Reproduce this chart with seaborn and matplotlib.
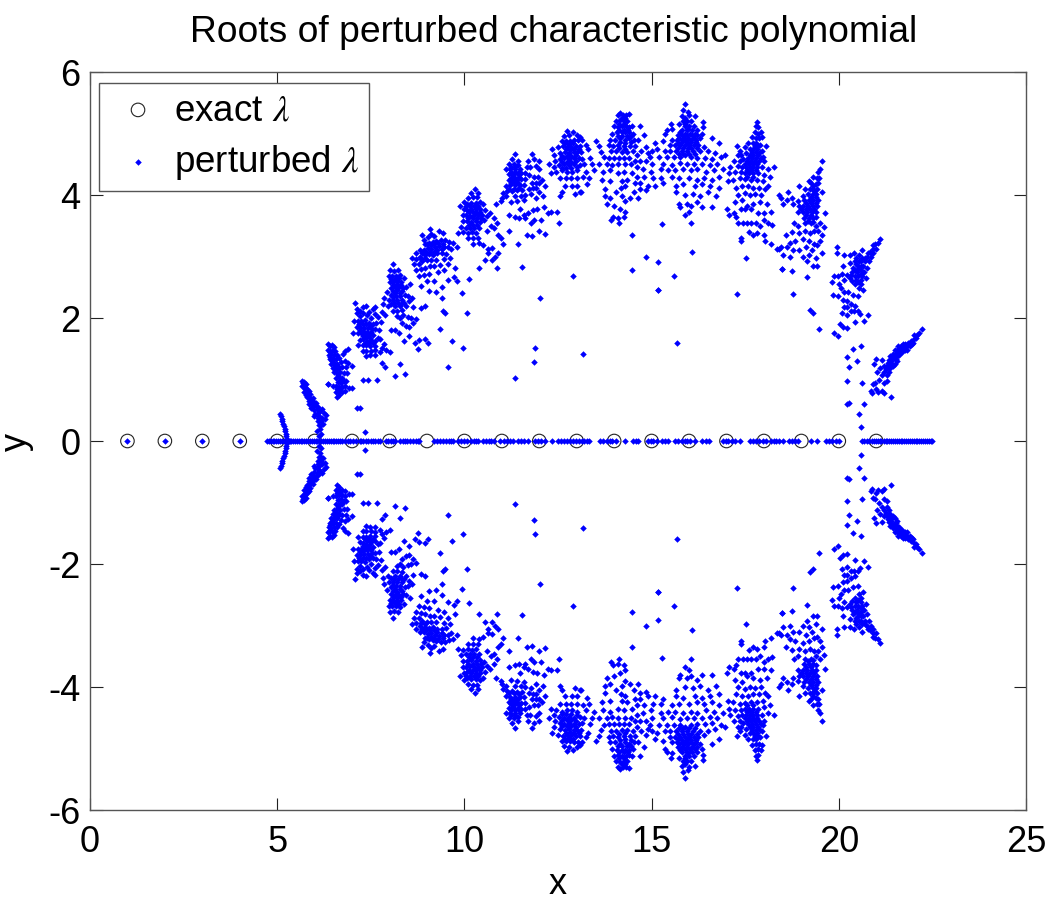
import numpy as np
import pandas as pd
import matplotlib
matplotlib.use("Agg")
import matplotlib.pyplot as plt
import seaborn as sns

TITLE = "Roots of perturbed characteristic polynomial"
exact_roots = list(range(1, 22))
x_ticks = [0, 5, 10, 15, 20, 25]
y_ticks = [-6, -4, -2, 0, 2, 4, 6]

real_roots = [1, 2, 3, 4,
 4.72,4.77,4.83,4.88,4.92,4.97,5.03,5.08,5.12,5.17,5.22,5.27,5.33,5.38,5.42,5.47,5.53,5.58,5.63,5.67,5.72,5.78,5.83,5.88,5.92,5.97,6.03,6.07,6.12,6.18,6.23,6.28,6.33,6.38,6.43,6.48,6.53,6.58,6.63,6.68,6.74,6.8,
 6.88,6.95,7.02,7.1,7.2,7.25,7.3,7.37,7.42,7.5,7.55,7.62,7.68,7.75,7.9,7.97,8.03,8.1,8.15,8.28,8.35,8.42,8.48,8.55,8.62,8.7,8.75,8.8,9.2,9.27,9.35,9.42,9.5,9.58,9.65,9.7,
 9.84,9.92,10.0,10.08,10.17,10.25,10.32,10.37,10.5,10.57,10.65,10.72,10.8,10.95,11.05,11.15,11.22,11.3,11.42,11.5,11.6,11.7,11.89,11.97,12.05,12.15,12.33,12.5,12.58,12.66,12.74,12.82,12.9,12.98,13.06,
 13.13,13.2,13.27,13.34,13.62,13.7,13.8,13.88,13.95,14.05,14.29,14.5,14.58,14.65,14.9,14.98,15.05,15.15,15.28,15.36,15.45,15.63,15.7,15.8,15.88,15.95,16.03,16.15,16.35,16.44,16.52,16.9,16.98,17.05,17.15,17.22,17.35,
 17.63,17.7,17.8,17.88,17.97,18.05,18.18,18.26,18.33,18.4,18.5,18.67,18.75,18.83,18.92,19.25,19.43,19.65,19.75,19.83,19.92,20.0,
 20.62,20.68,20.75,20.8,20.88,20.95,21.0,21.05,21.1,21.14,21.2,21.25,21.3,21.35,21.4,21.45,21.5,21.55,21.6,21.65,21.7,21.75,21.8,21.85,21.9,21.95,22.0,22.05,22.1,22.15,22.2,22.25,22.3,22.35,22.4,22.45,22.5]

# complex roots with positive imaginary part, read cluster by cluster as (x, y)
arc_5 = [(5.08,.44),(5.1,.4),(5.12,.36),(5.14,.32),(5.16,.28),(5.18,.24),(5.2,.2),(5.22,.16),(5.23,.12),(5.24,.08),(5.25,.04)]
cluster_6 = [(5.65,.98),(5.68,.94),(5.72,.96),(5.7,.9),(5.75,.88),(5.73,.84),(5.78,.92),(5.8,.84),(5.77,.79),(5.82,.78),(5.85,.82),(5.8,.72),(5.85,.72),(5.88,.76),(5.9,.68),(5.86,.65),(5.92,.62),(5.95,.7),(5.98,.64),(5.93,.56),(6.0,.58),(6.03,.62),(5.97,.5),(6.05,.52),(6.1,.56),(6.02,.44),(6.08,.46),(6.15,.48),(6.2,.52),(6.25,.46),(6.3,.42),(6.12,.4),(6.2,.38),(6.28,.36),(6.1,.33),(6.18,.32),(6.22,.28),(6.12,.26),(6.05,.17),(6.15,.2),(6.18,.12),(6.12,.08)]
cluster_7 = [(6.37,1.57),(6.42,1.55),(6.47,1.56),(6.52,1.53),(6.36,1.48),(6.42,1.47),(6.48,1.48),(6.55,1.46),(6.38,1.4),(6.45,1.41),(6.52,1.4),(6.6,1.4),(6.42,1.33),(6.5,1.34),(6.57,1.33),(6.66,1.35),(6.75,1.42),(6.82,1.47),(6.9,1.5),(6.45,1.26),(6.52,1.27),(6.6,1.26),(6.7,1.28),(6.8,1.3),(6.9,1.27),(7.0,1.22),(6.48,1.19),(6.56,1.2),(6.64,1.18),(6.74,1.2),(6.85,1.2),(6.52,1.12),(6.6,1.1),(6.68,1.12),(6.78,1.1),(6.58,1.03),(6.66,1.04),(6.74,1.02),(6.62,.96),(6.7,.95),(6.78,.97),(6.85,.98),(6.58,.89),(6.66,.88),(6.74,.88),(6.82,.9),(6.92,.86),(6.56,.8),(6.64,.8),(6.72,.79),(6.8,.82),(6.59,.71),(6.66,.74),(6.37,.92),(6.48,.9),(6.86,1.1),(7.0,.86)]
cluster_8 = [(7.08,2.25),(7.12,2.15),(7.2,2.12),(7.28,2.18),(7.36,2.19),(7.45,2.1),(7.55,2.14),(7.62,2.18),(7.12,2.08),(7.2,2.03),(7.3,2.08),(7.4,2.05),(7.5,2.0),(7.6,2.06),(7.7,2.02),(7.8,2.1),(7.88,2.05),(7.05,1.95),(7.15,1.95),(7.25,1.95),(7.35,1.96),(7.45,1.92),(7.55,1.9),(7.65,1.92),(7.78,1.94),(7.12,1.85),(7.22,1.86),(7.32,1.84),(7.42,1.83),(7.52,1.82),(7.6,1.82),(7.72,1.8),(7.02,1.75),(7.15,1.75),(7.25,1.75),(7.35,1.74),(7.45,1.72),(7.56,1.73),(7.68,1.68),(7.2,1.65),(7.3,1.66),(7.4,1.63),(7.5,1.64),(7.6,1.62),(7.75,1.66),(7.15,1.56),(7.28,1.56),(7.38,1.56),(7.48,1.55),(7.6,1.54),(7.85,1.58),(7.28,1.47),(7.38,1.46),(7.5,1.47),(7.62,1.48),(7.75,1.44),(7.9,1.48),(7.38,1.39),(7.48,1.4),(7.62,1.4),(7.8,1.52),(7.79,1.27),(7.88,1.2),(8.0,1.44)]
cluster_9 = [(8.1,2.87),(8.02,2.78),(8.12,2.76),(8.22,2.78),(7.98,2.68),(8.07,2.68),(8.17,2.68),(8.28,2.7),(8.38,2.65),(8.0,2.58),(8.1,2.58),(8.2,2.6),(8.3,2.58),(8.05,2.48),(8.15,2.5),(8.25,2.5),(8.35,2.48),(8.45,2.5),(8.55,2.56),(7.85,2.32),(7.92,2.42),(8.05,2.38),(8.15,2.4),(8.28,2.4),(8.42,2.38),(7.98,2.3),(8.1,2.3),(8.2,2.3),(8.32,2.3),(8.5,2.36),(7.82,2.22),(7.95,2.2),(8.05,2.22),(8.15,2.2),(8.28,2.2),(8.4,2.25),(8.52,2.28),(8.6,2.32),(8.1,2.12),(8.2,2.12),(8.34,2.13),(8.45,2.2),(8.62,2.18),(8.2,2.03),(8.28,2.0),(8.36,2.05),(8.5,2.02),(8.58,2.0),(8.32,1.92),(8.45,1.87),(8.52,1.86),(8.62,1.92),(8.72,1.98),(8.95,2.2),(8.85,2.17),(8.52,1.7),(8.95,1.66),(9.02,1.6),(8.25,1.75),(8.05,1.8),(8.15,1.8),(8.4,1.62),(8.68,1.6),(8.8,1.65)]
cluster_10 = [(9.08,3.44),(8.88,3.35),(8.92,3.27),(9.02,3.32),(9.12,3.36),(9.2,3.33),(9.32,3.42),(9.42,3.38),(8.95,3.2),(9.05,3.22),(9.15,3.24),(9.25,3.25),(9.38,3.27),(9.48,3.27),(9.6,3.24),(9.7,3.22),(9.8,3.15),(8.72,3.06),(8.82,3.1),(8.92,3.1),(9.02,3.14),(9.12,3.12),(9.22,3.15),(9.32,3.17),(9.45,3.16),(9.55,3.15),(9.65,3.12),(8.6,2.98),(8.72,2.96),(8.82,3.0),(8.95,3.02),(9.05,3.04),(9.17,3.03),(9.28,3.05),(9.4,3.06),(9.52,3.04),(8.66,2.88),(8.78,2.88),(8.88,2.92),(9.0,2.95),(9.12,2.94),(9.25,2.95),(9.45,2.96),(9.62,2.98),(8.72,2.78),(8.83,2.8),(8.95,2.82),(9.08,2.85),(9.2,2.84),(9.36,2.86),(9.55,2.88),(8.8,2.68),(8.92,2.7),(9.05,2.72),(9.3,2.75),(9.45,2.78),(9.75,2.82),(9.0,2.6),(9.18,2.6),(9.25,2.42),(9.4,2.5),(9.55,2.62),(9.72,2.66),(9.8,2.6),(9.93,2.4),(9.39,2.32),(8.85,2.52),(9.05,2.44)]
cluster_11 = [(10.28,4.09),(10.18,4.04),(10.36,4.04),(10.1,3.95),(10.22,3.96),(10.34,3.97),(9.98,3.88),(10.08,3.86),(10.18,3.87),(10.3,3.87),(10.42,3.88),(10.5,3.85),(9.88,3.82),(9.98,3.78),(10.08,3.76),(10.18,3.77),(10.3,3.77),(10.42,3.78),(10.55,3.76),(10.69,3.71),(9.95,3.68),(10.05,3.67),(10.15,3.66),(10.26,3.68),(10.37,3.67),(10.48,3.68),(10.6,3.66),(9.97,3.58),(10.08,3.57),(10.18,3.56),(10.3,3.58),(10.42,3.56),(10.52,3.6),(10.78,3.62),(9.92,3.48),(10.05,3.47),(10.15,3.47),(10.26,3.47),(10.38,3.47),(10.86,3.55),(10.72,3.5),(9.82,3.38),(9.95,3.4),(10.1,3.38),(10.2,3.4),(10.32,3.38),(10.6,3.42),(10.8,3.46),(10.1,3.3),(10.22,3.3),(10.36,3.3),(10.24,3.2),(10.4,3.22),(10.5,3.18),(10.64,3.12),(10.74,3.14),(10.38,2.82),(10.86,2.82),(10.91,3.06),(10.64,3.06),(10.55,2.95),(10.91,3.35),(11.18,3.42),(10.98,3.3),(11.02,3.2),(10.82,3.0),(10.75,2.95)]
cluster_12 = [(11.35,4.66),(11.26,4.58),(11.42,4.55),(11.2,4.5),(11.32,4.5),(11.44,4.48),(11.8,4.66),(11.85,4.58),(11.7,4.55),(11.98,4.55),(11.1,4.42),(11.22,4.42),(11.36,4.42),(11.48,4.42),(11.66,4.45),(11.76,4.45),(11.92,4.47),(11.2,4.34),(11.3,4.32),(11.42,4.34),(11.52,4.35),(11.62,4.35),(11.72,4.32),(12.0,4.42),(11.18,4.24),(11.3,4.24),(11.4,4.25),(11.5,4.26),(11.62,4.26),(11.85,4.3),(11.96,4.3),(11.1,4.14),(11.22,4.16),(11.35,4.16),(11.48,4.16),(11.6,4.17),(11.8,4.2),(11.9,4.2),(12.0,4.2),(12.08,4.25),(11.04,4.04),(11.15,4.06),(11.26,4.07),(11.4,4.08),(11.54,4.08),(11.72,4.1),(11.82,4.12),(11.92,4.12),(12.15,4.15),(11.0,3.95),(11.12,3.98),(11.35,3.98),(11.5,3.98),(11.62,4.0),(11.78,4.02),(12.0,4.05),(10.85,3.85),(10.98,3.9),(11.25,3.88),(11.4,3.9),(11.58,3.92),(11.9,3.95),(12.1,3.98),(11.48,3.78),(11.6,3.68),(11.7,3.7),(11.82,3.75),(11.95,3.78),(12.12,3.8),(11.18,3.68),(11.35,3.65),(11.47,3.62),(11.62,3.62),(11.78,3.55),(11.85,3.6),(12.05,3.6),(12.22,3.7),(12.3,3.72),(12.47,3.72),(12.54,3.55),(12.0,3.42),(12.15,3.37),(11.8,3.33),(11.67,3.35),(11.44,3.2),(11.53,2.83)]
cluster_13 = [(12.73,5.04),(12.66,4.96),(12.8,4.98),(12.9,5.02),(13.0,4.98),(13.1,4.95),(12.6,4.88),(12.72,4.88),(12.82,4.88),(12.93,4.9),(13.03,4.9),(13.15,4.9),(12.35,4.75),(12.5,4.78),(12.64,4.8),(12.75,4.78),(12.86,4.78),(12.98,4.8),(13.1,4.8),(13.25,4.82),(12.4,4.65),(12.56,4.68),(12.68,4.7),(12.8,4.68),(12.92,4.7),(13.02,4.7),(13.12,4.7),(13.3,4.75),(12.42,4.55),(12.55,4.58),(12.67,4.6),(12.8,4.58),(12.92,4.6),(13.05,4.6),(13.15,4.58),(13.35,4.6),(12.25,4.5),(12.38,4.45),(12.52,4.48),(12.66,4.5),(12.8,4.48),(12.93,4.5),(13.08,4.48),(13.2,4.5),(13.4,4.5),(12.3,4.35),(12.45,4.38),(12.62,4.4),(12.75,4.38),(12.88,4.38),(13.0,4.4),(13.25,4.38),(13.45,4.4),(12.55,4.28),(12.72,4.28),(12.85,4.28),(13.0,4.28),(13.18,4.3),(13.32,4.28),(12.7,4.15),(12.88,4.15),(13.02,4.15),(13.28,4.18),(12.95,4.02),(13.12,4.05),(12.62,4.05),(12.55,3.98),(13.09,4.05),(12.91,2.68),(13.16,1.42)]
cluster_14 = [(14.1,5.3),(14.16,5.34),(14.24,5.3),(14.32,5.3),(14.4,5.32),(14.05,5.2),(14.16,5.22),(14.25,5.2),(14.35,5.2),(14.0,5.12),(14.1,5.1),(14.2,5.12),(14.32,5.12),(14.4,5.1),(14.48,5.12),(14.68,5.12),(13.95,5.0),(14.08,5.02),(14.2,5.02),(14.3,5.02),(14.4,5.02),(14.5,5.0),(13.9,4.9),(14.02,4.9),(14.15,4.92),(14.28,4.9),(14.4,4.92),(14.52,4.9),(14.65,4.9),(14.8,4.98),(13.52,4.88),(13.6,4.8),(13.85,4.82),(13.98,4.8),(14.1,4.82),(14.25,4.8),(14.42,4.8),(14.55,4.8),(14.72,4.72),(14.85,4.78),(13.65,4.7),(13.92,4.72),(14.05,4.72),(14.2,4.7),(14.35,4.7),(14.5,4.72),(14.62,4.65),(14.9,4.68),(13.72,4.62),(13.85,4.6),(14.0,4.6),(14.12,4.6),(14.25,4.6),(14.4,4.6),(14.55,4.55),(14.7,4.55),(14.85,4.55),(13.6,4.5),(13.8,4.5),(13.95,4.48),(14.1,4.5),(14.3,4.5),(14.45,4.5),(14.6,4.45),(14.78,4.42),(13.7,4.38),(13.9,4.4),(14.1,4.35),(14.25,4.38),(14.48,4.35),(14.62,4.3),(14.8,4.3),(13.68,4.25),(13.9,4.22),(14.2,4.22),(14.35,4.24),(14.55,4.2),(14.7,4.2),(14.9,4.15),(13.75,4.1),(14.05,4.05),(14.18,4.12),(14.3,4.15),(14.52,4.05),(14.7,4.1),(14.85,4.08),(13.75,3.98),(13.88,3.95),(14.2,3.98),(14.42,3.95),(14.65,3.95),(13.8,3.85),(14.0,3.82),(14.28,3.9),(14.3,3.72),(14.15,3.78),(14.25,3.65),(13.98,3.65),(13.92,3.6),(14.1,3.62),(14.13,3.55),(14.47,3.35),(14.84,3.0),(14.47,2.78),(15.18,2.91),(15.18,2.46)]
cluster_16 = [(15.9,5.48),(15.85,5.38),(15.96,5.35),(15.8,5.28),(16.0,5.3),(16.15,5.28),(15.85,5.2),(15.95,5.2),(16.05,5.2),(15.52,5.15),(15.72,5.15),(15.88,5.12),(16.0,5.12),(16.12,5.12),(16.38,5.18),(15.4,5.05),(15.55,5.08),(15.82,5.05),(15.95,5.05),(16.08,5.05),(16.2,5.05),(16.38,5.1),(15.35,5.0),(15.7,4.98),(15.82,4.97),(15.95,4.98),(16.08,4.97),(16.2,4.97),(16.35,5.0),(15.55,4.9),(15.68,4.9),(15.8,4.9),(15.92,4.9),(16.05,4.9),(16.18,4.9),(16.3,4.92),(16.6,4.92),(15.1,4.85),(15.3,4.88),(15.48,4.82),(15.62,4.82),(15.75,4.82),(15.88,4.82),(16.0,4.82),(16.12,4.82),(16.25,4.82),(16.4,4.78),(16.8,4.85),(15.0,4.72),(15.15,4.75),(15.35,4.72),(15.5,4.72),(15.65,4.72),(15.8,4.72),(15.95,4.72),(16.1,4.72),(16.28,4.72),(16.5,4.72),(16.7,4.68),(14.95,4.62),(15.2,4.62),(15.42,4.62),(15.6,4.62),(15.75,4.62),(15.9,4.65),(16.05,4.62),(16.2,4.6),(16.42,4.6),(16.6,4.58),(16.85,4.62),(15.0,4.5),(15.3,4.5),(15.55,4.48),(15.75,4.52),(15.95,4.5),(16.12,4.5),(16.35,4.5),(16.55,4.48),(16.75,4.5),(14.98,4.38),(15.25,4.42),(15.45,4.4),(15.62,4.4),(15.85,4.42),(16.05,4.4),(16.22,4.42),(16.45,4.38),(16.68,4.4),(16.9,4.42),(15.05,4.28),(15.25,4.28),(15.55,4.3),(15.72,4.28),(16.0,4.28),(16.2,4.25),(16.4,4.28),(16.6,4.25),(16.8,4.3),(15.1,4.15),(15.3,4.2),(15.65,4.15),(15.85,4.18),(16.15,4.15),(16.35,4.18),(16.55,4.15),(16.8,4.12),(15.65,4.05),(15.9,4.0),(16.1,4.02),(16.3,3.98),(16.5,4.05),(16.72,3.98),(15.72,3.85),(15.95,3.85),(16.2,3.88),(16.05,3.82),(16.35,3.8),(16.6,3.8),(15.75,3.8),(15.27,3.53),(16.05,3.55),(15.9,3.68),(16.0,3.72),(15.61,2.68),(15.67,1.6),(16.07,3.08)]
cluster_18 = [(17.81,5.18),(17.78,5.12),(17.85,5.1),(17.75,5.02),(17.85,5.0),(17.92,5.02),(17.68,4.95),(17.78,4.92),(17.88,4.92),(17.95,4.95),(17.58,4.85),(17.7,4.85),(17.8,4.85),(17.9,4.82),(18.05,4.8),(17.28,4.8),(17.35,4.72),(17.5,4.78),(17.62,4.75),(17.72,4.75),(17.82,4.75),(17.95,4.72),(17.3,4.65),(17.4,4.65),(17.52,4.68),(17.62,4.65),(17.72,4.65),(17.85,4.65),(17.98,4.62),(16.95,4.65),(17.2,4.55),(17.35,4.55),(17.45,4.58),(17.55,4.55),(17.65,4.55),(17.75,4.55),(17.88,4.55),(18.0,4.55),(18.28,4.45),(17.1,4.45),(17.3,4.47),(17.42,4.45),(17.52,4.45),(17.62,4.45),(17.72,4.45),(17.82,4.45),(17.95,4.45),(18.1,4.42),(17.08,4.35),(17.22,4.38),(17.4,4.38),(17.5,4.35),(17.6,4.35),(17.7,4.35),(17.85,4.35),(18.0,4.32),(18.15,4.3),(17.05,4.22),(17.18,4.25),(17.35,4.28),(17.5,4.26),(17.65,4.25),(17.82,4.25),(17.98,4.22),(18.12,4.15),(17.25,4.12),(17.42,4.15),(17.58,4.15),(17.72,4.12),(17.88,4.12),(18.02,4.1),(17.3,4.0),(17.5,4.03),(17.62,4.0),(17.75,4.02),(17.92,4.0),(17.22,3.88),(17.42,3.92),(17.55,3.82),(17.7,3.85),(17.9,3.88),(18.08,3.85),(17.38,3.78),(17.5,3.78),(17.65,3.78),(17.85,3.7),(18.0,3.7),(18.2,3.72),(17.02,3.78),(17.2,3.7),(17.08,3.68),(17.25,3.65),(17.45,3.55),(17.55,3.55),(17.65,3.55),(17.8,3.55),(17.6,3.4),(17.72,3.35),(17.9,3.5),(17.82,3.38),(18.0,3.6),(18.1,3.55),(18.22,3.52),(18.02,3.25),(17.38,3.3),(17.4,3.25),(17.3,3.55),(17.52,2.97),(17.28,2.39),(18.2,3.2),(18.4,3.12),(18.0,3.35)]
cluster_19 = [(19.55,4.55),(19.5,4.42),(19.45,4.38),(19.42,4.28),(19.3,4.3),(19.48,4.28),(19.38,4.18),(19.45,4.2),(19.2,4.22),(18.95,4.15),(19.3,4.15),(19.1,4.1),(19.22,4.1),(19.32,4.1),(19.42,4.1),(18.4,4.0),(18.45,3.95),(18.65,4.05),(18.75,3.95),(19.05,3.98),(19.18,4.02),(19.3,4.02),(19.4,4.02),(19.55,4.05),(18.5,3.85),(18.62,3.92),(18.78,3.85),(18.92,3.9),(19.08,3.92),(19.2,3.92),(19.32,3.92),(19.45,3.92),(18.95,3.82),(19.05,3.82),(19.18,3.82),(19.3,3.82),(19.42,3.82),(18.92,3.72),(19.05,3.72),(19.15,3.72),(19.28,3.72),(19.4,3.72),(19.62,3.7),(19.08,3.62),(19.2,3.62),(19.32,3.62),(19.1,3.55),(19.25,3.55),(19.38,3.5),(19.5,3.55),(19.45,3.42),(19.35,3.42),(19.1,3.42),(19.22,3.38),(19.6,3.48),(19.55,3.35),(18.8,3.55),(18.92,3.5),(18.75,3.4),(18.6,3.35),(18.95,3.38),(18.7,3.22),(18.82,3.25),(19.2,3.25),(19.35,3.2),(19.5,3.25),(19.05,3.28),(18.62,3.15),(18.78,3.1),(18.95,3.1),(19.12,3.15),(19.28,3.1),(19.42,3.18),(18.45,3.15),(18.35,3.12),(18.5,3.02),(19.05,3.0),(19.2,3.02),(19.15,2.92),(19.38,2.98),(19.55,3.05),(18.7,3.0),(19.3,2.85),(19.42,2.85),(18.48,2.8),(18.76,2.77),(19.15,2.67),(18.79,2.39)]
cluster_21 = [(21.1,3.28),(21.05,3.22),(20.98,3.2),(21.0,3.12),(20.92,3.12),(20.92,3.05),(20.82,3.08),(20.62,3.1),(20.85,3.0),(20.75,3.0),(20.55,3.02),(20.45,2.98),(20.4,3.05),(20.3,3.02),(20.7,2.92),(20.8,2.92),(20.6,2.92),(20.45,2.88),(20.52,2.85),(20.65,2.85),(20.75,2.82),(20.58,2.78),(20.68,2.75),(20.48,2.75),(20.38,2.82),(20.3,2.9),(20.15,3.02),(19.95,3.15),(19.95,3.05),(20.1,2.85),(20.62,2.68),(20.52,2.68),(20.42,2.68),(20.32,2.7),(20.22,2.7),(20.08,2.72),(19.98,2.68),(19.88,2.68),(19.82,2.58),(20.15,2.62),(20.35,2.6),(20.5,2.58),(20.6,2.55),(20.72,2.65),(20.65,2.45),(20.55,2.48),(20.0,2.55),(20.05,2.48),(20.15,2.42),(20.25,2.42),(20.38,2.38),(20.5,2.35),(19.85,2.38),(19.98,2.35),(20.12,2.3),(20.22,2.28),(20.32,2.22),(20.42,2.2),(20.22,2.18),(20.32,2.12),(20.15,2.18),(20.08,2.08),(20.22,2.05),(20.4,2.12),(20.52,2.12),(20.44,1.94),(20.66,1.95),(20.79,2.05),(20.57,2.06),(20.04,1.9),(20.21,1.83),(19.99,1.7),(19.86,1.76),(19.46,1.82),(19.23,2.13),(19.32,2.08),(20.1,1.85)]
cluster_22 = [(22.22,1.82),(22.1,1.72),(22.05,1.68),(21.98,1.65),(21.92,1.62),(21.88,1.58),(21.82,1.55),(21.95,1.58),(21.75,1.52),(21.68,1.48),(21.82,1.48),(21.72,1.58),(21.62,1.52),(21.58,1.45),(21.7,1.44),(21.55,1.38),(21.62,1.4),(21.45,1.42),(21.48,1.35),(21.38,1.38),(21.55,1.3),(21.4,1.3),(21.45,1.22),(21.32,1.27),(21.3,1.18),(21.38,1.18),(21.22,1.22),(21.15,1.32),(21.0,1.34),(20.95,1.25),(21.1,1.18),(21.02,1.12),(21.22,1.12),(21.3,1.08),(21.15,1.08),(21.08,1.0),(21.28,.98),(21.0,.85),(20.92,.92),(21.2,.95),(20.85,.82),(20.9,.78),(21.15,.82),(21.05,.8),(20.98,.95),(20.62,.95),(20.21,.98),(20.26,1.21),(20.21,1.36),(20.37,1.49),(20.6,1.54),(20.48,1.3),(20.21,.6),(20.27,.62),(20.53,.44),(20.66,.6),(20.6,.23),(21.2,.78),(21.4,.72)]
sparse_inner = [(6.37,.92),(7.12,.54),(7.2,.54),(7.35,.14),(7.3,1.0),(7.43,1.0),(7.66,1.0),(8.15,1.06),(8.42,1.09),(8.28,1.25),(8.77,1.49),(9.57,1.21),(9.97,1.52),(9.66,1.62),(9.35,1.82),(10.06,2.08),(9.48,2.08),(9.44,2.12),(10.11,2.63),(11.89,1.52),(11.87,1.29),(11.34,1.03),(12.02,2.33),(18.48,2.8),(15.18,2.46)]
# densest cores of the clusters, where the marks overlap
dense_cores = [(5.67,.9),(5.71,.8),(5.76,.74),(5.84,.6),(5.9,.54),(5.99,.4),(6.08,.38),(6.16,.26),
 (6.4,1.36),(6.47,1.3),(6.41,1.44),(6.55,1.24),(6.56,1.15),(6.63,1.22),(6.62,1.07),(6.7,1.0),(6.6,.84),(6.68,.84),
 (7.18,1.9),(7.28,1.9),(7.38,1.9),(7.48,1.87),(7.2,1.8),(7.3,1.79),(7.4,1.78),(7.5,1.77),(7.28,1.7),(7.38,1.69),(7.48,1.68),(7.35,1.6),(7.45,1.6),(7.55,1.6),
 (8.05,2.63),(8.15,2.63),(8.25,2.65),(8.1,2.53),(8.2,2.55),(8.3,2.53),(8.1,2.44),(8.2,2.45),(8.32,2.44),(8.08,2.34),(8.18,2.35),(8.28,2.35),(8.12,2.25),(8.22,2.25),(8.34,2.25),
 (9.0,3.2),(9.1,3.18),(9.2,3.2),(9.3,3.22),(9.42,3.2),(9.08,3.08),(9.18,3.08),(9.28,3.1),(9.4,3.12),(8.88,3.05),(8.98,3.07),(8.85,2.96),(8.95,2.97),
 (10.05,3.82),(10.15,3.82),(10.25,3.82),(10.35,3.82),(10.12,3.72),(10.22,3.72),(10.32,3.72),(10.42,3.72),(10.1,3.62),(10.22,3.62),(10.33,3.62),(10.45,3.62),(10.12,3.52),(10.22,3.52),(10.33,3.52),
 (11.25,4.46),(11.36,4.46),(11.25,4.37),(11.36,4.37),(11.47,4.38),(11.25,4.28),(11.36,4.28),(11.46,4.3),(11.25,4.2),(11.35,4.2),(11.44,4.2),(11.18,4.1),(11.32,4.1),(11.46,4.12),
 (12.7,4.84),(12.8,4.83),(12.9,4.84),(12.72,4.74),(12.82,4.73),(12.93,4.75),(13.05,4.75),(12.62,4.64),(12.74,4.64),(12.86,4.64),(12.98,4.65),(12.6,4.54),(12.74,4.54),(12.86,4.54),(12.98,4.55),(12.6,4.44),(12.72,4.44),(12.85,4.44),(13.0,4.46),
 (14.2,5.26),(14.3,5.25),(14.12,5.16),(14.26,5.16),(14.14,5.06),(14.25,5.06),(14.36,5.06),(14.1,4.96),(14.22,4.96),(14.34,4.96),(14.46,4.96),(14.15,4.86),(14.3,4.85),(14.45,4.86),(14.12,4.76),(14.28,4.75),
 (15.9,5.25),(15.9,5.16),(15.98,5.08),(15.75,5.02),(15.88,5.0),(16.02,5.0),(16.15,5.0),(15.74,4.93),(15.86,4.93),(15.98,4.93),(16.12,4.93),(15.7,4.85),(15.82,4.86),(15.94,4.86),(16.06,4.86),(16.18,4.86),(15.7,4.77),(15.84,4.77),(15.96,4.77),(16.05,4.77),(16.2,4.77),(15.72,4.67),(15.85,4.67),(16.0,4.67),(16.15,4.67),
 (17.75,4.8),(17.85,4.8),(17.68,4.7),(17.78,4.7),(17.9,4.7),(17.58,4.6),(17.68,4.6),(17.8,4.6),(17.92,4.6),(17.5,4.5),(17.6,4.5),(17.7,4.5),(17.82,4.5),(17.55,4.4),(17.65,4.4),(17.78,4.4),(17.55,4.3),(17.7,4.3),
 (19.25,4.2),(19.35,4.06),(19.25,3.97),(19.38,3.97),(19.12,3.87),(19.25,3.87),(19.38,3.87),(19.0,3.77),(19.12,3.77),(19.22,3.77),(19.34,3.77),(19.12,3.67),(19.26,3.67),(19.38,3.65),(19.18,3.58),(19.32,3.56),
 (20.92,3.18),(20.85,3.06),(20.78,3.06),(20.7,2.98),(20.62,2.98),(20.55,2.92),(20.42,2.92),(20.58,2.72),(20.42,2.78),(20.5,2.8),(20.6,2.84),(20.35,2.74),(20.45,2.62),(20.58,2.62),(20.3,2.65),(20.42,2.55),
 (22.15,1.76),(22.02,1.72),(21.98,1.6),(21.9,1.55),(21.85,1.6),(21.78,1.58),(21.78,1.48),(21.72,1.5),(21.65,1.45),(21.6,1.5),(21.65,1.55),(21.58,1.55),(21.52,1.42),(21.5,1.48),(21.42,1.35),(21.35,1.32),(21.52,1.33),(21.5,1.25),(21.42,1.26),(21.35,1.22),(21.28,1.22),(21.25,1.17),(21.35,1.13)]

clusters = [arc_5, cluster_6, cluster_7, cluster_8, cluster_9, cluster_10, cluster_11,
            cluster_12, cluster_13, cluster_14, cluster_16, cluster_18, cluster_19,
            cluster_21, cluster_22, sparse_inner, dense_cores]

upper = np.array([p for c in clusters for p in c])
# the polynomial is real, so complex roots come in conjugate pairs
px = np.concatenate([real_roots, upper[:, 0], upper[:, 0]])
py = np.concatenate([np.zeros(len(real_roots)), upper[:, 1], -upper[:, 1]])
perturbed = pd.DataFrame({"x": px, "y": py})
exact = pd.DataFrame({"x": exact_roots, "y": [0] * len(exact_roots)})

sns.set_theme(style="white")
plt.rcParams["font.family"] = ["Liberation Sans", "DejaVu Sans"]
plt.rcParams["mathtext.fontset"] = "stix"
plt.rcParams["axes.unicode_minus"] = False

fig = plt.figure(figsize=(10.49, 9.03), dpi=100)
ax = fig.add_axes([90 / 1049, 1 - 811 / 903, (1026 - 90) / 1049, (811 - 73) / 903])

sns.scatterplot(data=exact, x="x", y="y", ax=ax, marker="o", s=95, facecolor="none",
                edgecolor="#222222", linewidth=0.8, label=r"exact $\lambda$", zorder=2)
sns.scatterplot(data=perturbed, x="x", y="y", ax=ax, marker="D", s=11, color="#0000ff",
                linewidth=0, label=r"perturbed $\lambda\;\;$", zorder=3)

ax.set_xlim(0, 25)
ax.set_ylim(-6, 6)
ax.set_xticks(x_ticks)
ax.set_yticks(y_ticks)
ax.tick_params(axis="both", which="major", direction="in", length=9, width=0.8,
               top=True, right=True, bottom=True, left=True, labelsize=26,
               color="#222222", labelcolor="black", pad=10)
ax.tick_params(axis="y", pad=7)
for s in ax.spines.values():
    s.set_visible(True)
    s.set_color("#555555")
    s.set_linewidth(1.0)

ax.set_title(TITLE, fontsize=26.8, pad=22, color="black", x=0.4957)
ax.set_xlabel("x", fontsize=26, color="black", labelpad=5)
ax.set_ylabel("y", fontsize=26, color="black", labelpad=0)
ax.yaxis.set_label_coords(-56 / 936, 0.5)

leg = ax.legend(loc="upper left", bbox_to_anchor=(9 / 936, 1 - 11 / 738), borderaxespad=0,
                frameon=True, fancybox=False, framealpha=1, edgecolor="#555555",
                fontsize=26.5, handlelength=1.6, handletextpad=0.17, borderpad=0.26, labelspacing=0.4,
                labelcolor="black", markerscale=1.0)
leg.get_frame().set_linewidth(1.0)

fig.savefig("out.png", dpi=100, facecolor="white")
